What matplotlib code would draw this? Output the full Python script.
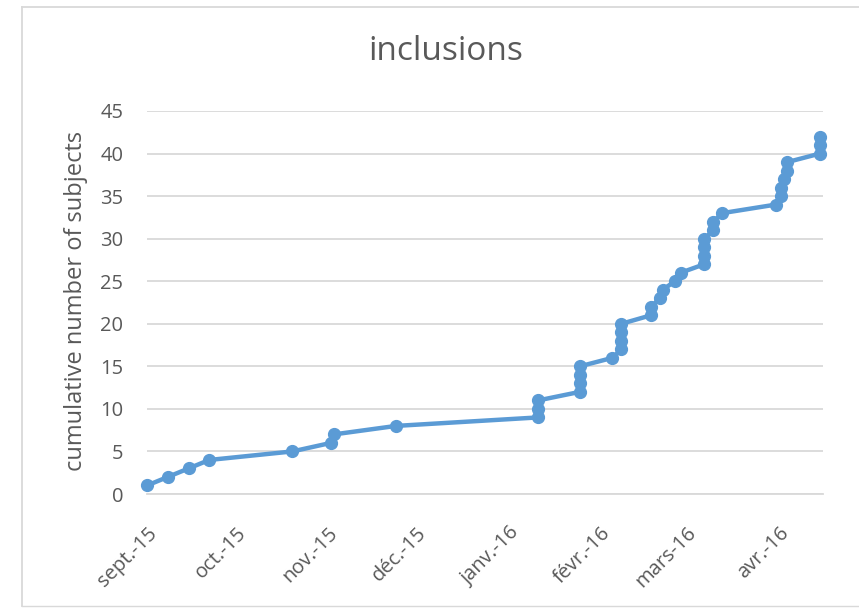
import matplotlib
matplotlib.use("Agg")
import matplotlib.pyplot as plt
from matplotlib.lines import Line2D
import numpy as np

# ---- data ----
inclusion_dates = [
    "2015-09-01", "2015-09-08", "2015-09-15", "2015-09-22", "2015-10-20",
    "2015-11-02", "2015-11-03", "2015-11-24",
    "2016-01-11", "2016-01-11", "2016-01-11",
    "2016-01-25", "2016-01-25", "2016-01-25", "2016-01-25",
    "2016-02-05", "2016-02-08", "2016-02-08", "2016-02-08", "2016-02-08",
    "2016-02-18", "2016-02-18", "2016-02-21", "2016-02-22", "2016-02-26",
    "2016-02-28",
    "2016-03-07", "2016-03-07", "2016-03-07", "2016-03-07",
    "2016-03-10", "2016-03-10", "2016-03-13",
    "2016-03-31", "2016-04-02", "2016-04-02", "2016-04-03", "2016-04-04",
    "2016-04-04",
    "2016-04-15", "2016-04-15", "2016-04-15",
]
cumulative_subjects = [
    1, 2, 3, 4, 5, 6, 7, 8, 9, 10, 11, 12, 13, 14, 15, 16, 17, 18, 19, 20,
    21, 22, 23, 24, 25, 26, 27, 28, 29, 30, 31, 32, 33, 34, 35, 36, 37, 38,
    39, 40, 41, 42,
]
tick_dates = ["2015-09-01", "2015-10-01", "2015-11-01", "2015-12-01",
              "2016-01-01", "2016-02-01", "2016-03-01", "2016-04-01"]
tick_labels = ["sept.-15", "oct.-15", "nov.-15", "déc.-15",
               "janv.-16", "févr.-16", "mars-16", "avr.-16"]
y_ticks = [0, 5, 10, 15, 20, 25, 30, 35, 40, 45]
title = "inclusions"
y_label = "cumulative number of subjects"

# ---- style ----
plt.rcParams["font.family"] = ["Open Sans", "DejaVu Sans"]
TEXT = "#595959"
GRID = "#D9D9D9"
BLUE = "#5B9BD5"

W, H = 859, 608
fig = plt.figure(figsize=(W / 100, H / 100), dpi=100)
fig.patch.set_facecolor("white")

L, R, T, B = 147, 823, 111, 494
ax = fig.add_axes([L / W, 1 - B / H, (R - L) / W, (B - T) / H])

x = np.array(inclusion_dates, dtype="datetime64[D]")
ax.plot(x, cumulative_subjects, color=BLUE, lw=3.2, marker="o",
        markersize=8.5, markerfacecolor=BLUE, markeredgecolor=BLUE,
        solid_joinstyle="round", zorder=3, clip_on=False)

ax.set_xlim(np.datetime64("2015-09-01"), np.datetime64("2016-04-16"))
ax.set_ylim(0, 45)
ax.set_yticks(y_ticks)
ax.set_xticks(np.array(tick_dates, dtype="datetime64[D]"))
ax.set_xticklabels(tick_labels)

ax.grid(axis="y", color=GRID, lw=1.3)
ax.set_axisbelow(True)
for s in ["top", "right", "left"]:
    ax.spines[s].set_visible(False)
ax.spines["bottom"].set_color(GRID)
ax.spines["bottom"].set_linewidth(1.3)

ax.tick_params(axis="y", length=0, pad=17, labelsize=14.5, labelcolor=TEXT)
ax.tick_params(axis="x", length=0, pad=21, labelsize=14.5, labelcolor=TEXT)
for lab in ax.get_xticklabels():
    lab.set_rotation(45)
    lab.set_rotation_mode("anchor")
    lab.set_ha("right")
    lab.set_va("top")

fig.text(446 / W, 1 - 52 / H, title, ha="center", va="center",
         fontsize=24, color=TEXT)
fig.text(76 / W, 1 - 301 / H, y_label, rotation=90, ha="center",
         va="center", fontsize=17, color=TEXT)

# chart-area border (left, top, bottom visible; right cropped)
bc = "#D9D9D9"
fig.add_artist(Line2D([22 / W, 22 / W], [1 - 7 / H, 1 - 606 / H],
                      transform=fig.transFigure, color=bc, lw=1.3))
fig.add_artist(Line2D([22 / W, 1.0], [1 - 7 / H, 1 - 7 / H],
                      transform=fig.transFigure, color=bc, lw=1.3))
fig.add_artist(Line2D([22 / W, 1.0], [1 - 606 / H, 1 - 606 / H],
                      transform=fig.transFigure, color=bc, lw=1.0))

fig.savefig("out.png", dpi=100)
